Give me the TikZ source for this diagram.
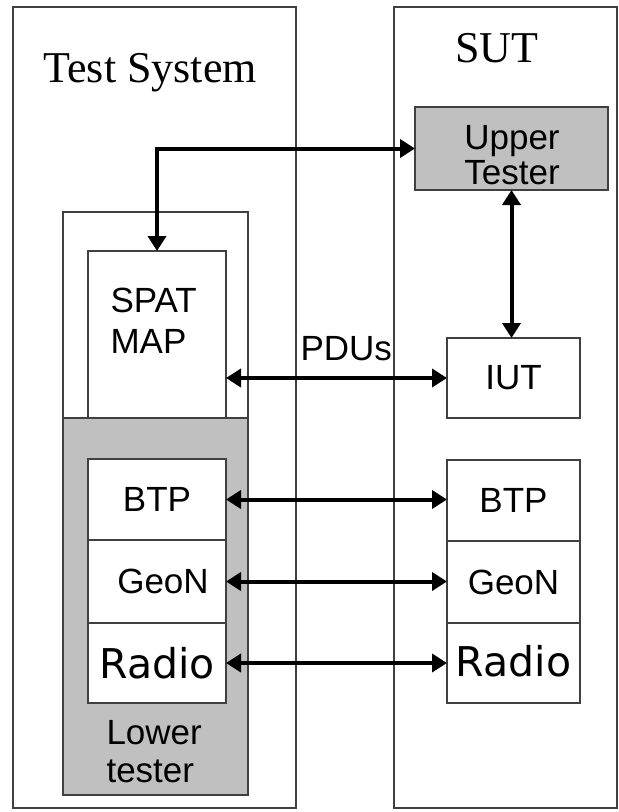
\documentclass[tikz,border=0pt]{standalone}
\usepackage{fontspec}
\setmainfont{Liberation Sans}
\newfontfamily\titlefont{Liberation Serif}
\newfontfamily\radiofont{DejaVu Sans}
\usetikzlibrary{arrows.meta}
\definecolor{edgegray}{RGB}{64,64,64}
\definecolor{testergray}{RGB}{192,192,192}
\tikzset{
  box/.style={draw=edgegray, line width=1.5pt, outer sep=0pt, inner sep=0pt, anchor=north west},
  sanstext/.style={font=\fontsize{35}{35}\selectfont},
  radiotext/.style={font=\radiofont\fontsize{41}{41}\selectfont},
  systitle/.style={font=\titlefont\fontsize{44}{44}\selectfont},
  link/.style={{Triangle[length=15pt,width=18pt]}-{Triangle[length=15pt,width=18pt]}, line width=4pt}
}
\begin{document}
\begin{tikzpicture}[x=1pt,y=-1pt]
  \useasboundingbox (0,0) rectangle (619,812);

  % test system and SUT
  \node[box, minimum width=283pt, minimum height=801pt] (testsys) at (13,7) {};
  \node[box, minimum width=223pt, minimum height=801pt] (sut) at (394,7) {};
  \node[systitle, anchor=base west] (testsystitle) at (40,82) {Test System};
  \node[systitle, anchor=base] (suttitle) at (497,62) {SUT};

  % tester side
  \node[box, minimum width=185pt, minimum height=206pt] (adapter) at (63,212) {};
  \node[box, fill=testergray, minimum width=185pt, minimum height=377pt] (lowtester) at (63,418) {};
  \node[box, minimum width=138pt, minimum height=167pt] (spat) at (88,251) {};
  \node[sanstext, align=left, anchor=west, font=\fontsize{35}{41}\selectfont] (spattext) at (107,321) {SPAT\\MAP};
  \node[box, sanstext, fill=white, minimum width=138pt, minimum height=81pt] (ltbtp) at (88,459) {BTP};
  \node[box, sanstext, fill=white, minimum width=138pt, minimum height=83pt] (ltgeon) at (88,540) {\hspace{12pt}GeoN};
  \node[box, radiotext, fill=white, minimum width=138pt, minimum height=80pt] (ltradio) at (88,623) {Radio};
  \node[sanstext, align=left, anchor=west, font=\fontsize{35}{38}\selectfont] (lowtext) at (103,752) {Lower\\tester};

  % SUT side
  \node[box, fill=testergray, minimum width=193pt, minimum height=83pt] (upper) at (415,107) {};
  \node[sanstext, align=center] (uppertext) at (512,155) {Upper\\Tester};
  \node[box, sanstext, minimum width=133pt, minimum height=80pt] (iut) at (447,338) {IUT};
  \node[box, sanstext, minimum width=133pt, minimum height=81pt] (rbtp) at (447,460) {BTP};
  \node[box, sanstext, minimum width=133pt, minimum height=82pt] (rgeon) at (447,541) {GeoN};
  \node[box, radiotext, minimum width=133pt, minimum height=80pt] (rradio) at (447,623) {\raisebox{4pt}{Radio}};

  % connections
  \draw[link] (upper.west) -| (spat.north);
  \draw[link] (upper.south) -- (upper.south |- iut.north);
  \draw[link] (spat.east |- iut.west) -- (iut.west);
  \node[sanstext, anchor=base west] (pdus) at (297,360) {PDUs};
  \draw[link] (ltbtp.east) -- (ltbtp.east -| rbtp.west);
  \draw[link] (ltgeon.east) -- (ltgeon.east -| rgeon.west);
  \draw[link] (ltradio.east) -- (ltradio.east -| rradio.west);
\end{tikzpicture}
\end{document}
